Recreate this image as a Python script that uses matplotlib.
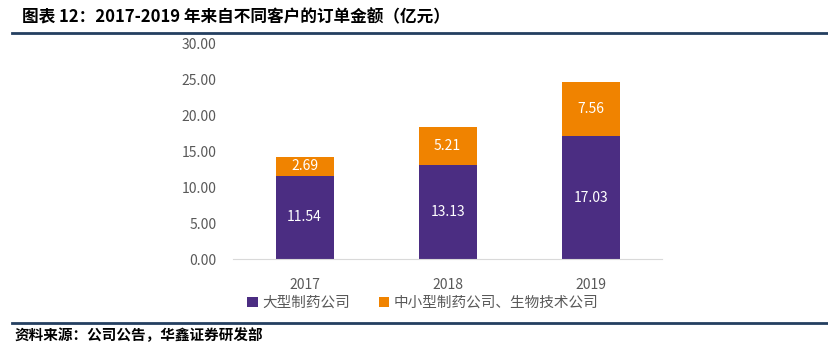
import matplotlib.pyplot as plt
from matplotlib.lines import Line2D

plt.rcParams['font.family'] = ['Noto Sans CJK SC', 'DejaVu Sans']

# Data
years = ['2017', '2018', '2019']
big_pharma = [11.54, 13.13, 17.03]
small_pharma = [2.69, 5.21, 7.56]
labels = ['大型制药公司', '中小型制药公司、生物技术公司']
colors = ['#4B2D82', '#F08300']

fig = plt.figure(figsize=(8.29, 3.47), dpi=100)
ax = fig.add_axes([0.281, 0.2536, 0.518, 0.622])

x = range(len(years))
bars1 = ax.bar(x, big_pharma, width=0.405, color=colors[0], label=labels[0])
bars2 = ax.bar(x, small_pharma, width=0.405, bottom=big_pharma, color=colors[1], label=labels[1])

# value labels inside bars
for b, v in zip(bars1, big_pharma):
    ax.text(b.get_x() + b.get_width() / 2, b.get_y() + b.get_height() / 2, f'{v:.2f}',
            ha='center', va='center', color='white', fontsize=10)
for b, v in zip(bars2, small_pharma):
    ax.text(b.get_x() + b.get_width() / 2, b.get_y() + b.get_height() / 2, f'{v:.2f}',
            ha='center', va='center', color='white', fontsize=10)

ax.set_xlim(-0.5, 2.5)
ax.set_ylim(0, 30)
ax.set_yticks([0, 5, 10, 15, 20, 25, 30])
ax.set_yticklabels([f'{t:.2f}' for t in [0, 5, 10, 15, 20, 25, 30]])
ax.set_xticks(list(x))
ax.set_xticklabels(years)
ax.tick_params(axis='both', length=0, colors='#595959', labelsize=10)
ax.tick_params(axis='y', pad=12)
ax.tick_params(axis='x', pad=14)
for s in ['top', 'right', 'left']:
    ax.spines[s].set_visible(False)
ax.spines['bottom'].set_color('#D9D9D9')

leg = ax.legend(loc='upper center', bbox_to_anchor=(0.442, -0.11), ncol=2, frameon=False,
                fontsize=10.5, handlelength=0.7, handleheight=0.7, handletextpad=0.3,
                columnspacing=2.0, labelcolor='#595959')

# title and footer
fig.text(0.027, 0.95, '图表 12：2017-2019 年来自不同客户的订单金额（亿元）', fontsize=12,
         fontweight='bold', va='center', ha='left', color='black')
fig.add_artist(Line2D([0.015, 1.0], [0.905, 0.905], color='#243F60', lw=2))
fig.add_artist(Line2D([0.015, 1.0], [0.069, 0.069], color='#243F60', lw=2))
fig.text(0.017, 0.035, '资料来源：公司公告，华鑫证券研发部', fontsize=10.5,
         fontweight='bold', va='center', ha='left', color='black')

fig.savefig('out.png', dpi=100)
